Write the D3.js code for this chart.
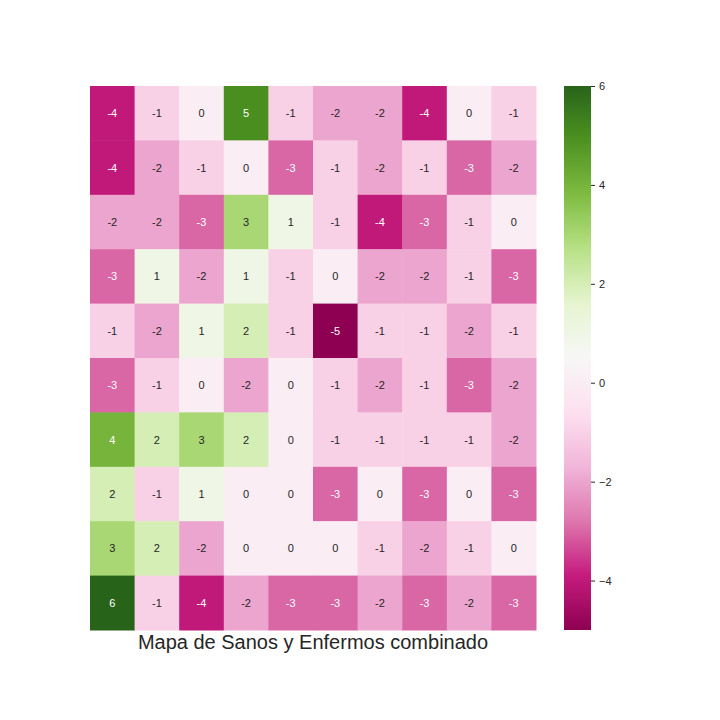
<!DOCTYPE html>
<html><head><meta charset="utf-8">
<script src="https://cdn.jsdelivr.net/npm/d3@7"></script>
<style>body{margin:0;background:#fff;}svg{display:block;}</style>
</head><body>
<svg id="chart" width="720" height="720"></svg>
<script>
const rowsIdx = [0,1,2,3,4,5,6,7,8,9];
const colsIdx = [0,1,2,3,4,5,6,7,8,9];
const matrix = [
  [-4,-1,0,5,-1,-2,-2,-4,0,-1],
  [-4,-2,-1,0,-3,-1,-2,-1,-3,-2],
  [-2,-2,-3,3,1,-1,-4,-3,-1,0],
  [-3,1,-2,1,-1,0,-2,-2,-1,-3],
  [-1,-2,1,2,-1,-5,-1,-1,-2,-1],
  [-3,-1,0,-2,0,-1,-2,-1,-3,-2],
  [4,2,3,2,0,-1,-1,-1,-1,-2],
  [2,-1,1,0,0,-3,0,-3,0,-3],
  [3,2,-2,0,0,0,-1,-2,-1,0],
  [6,-1,-4,-2,-3,-3,-2,-3,-2,-3]
];
const cbTicks = [-4,-2,0,2,4,6];
const title = "Mapa de Sanos y Enfermos combinado";
const vmin = -5, vmax = 6;
const piyg = ["#8e0152","#c51b7d","#de77ae","#f1b6da","#fde0ef","#f7f7f7","#e6f5d0","#b8e186","#7fbc41","#4d9221","#276419"];

const cmap = d3.scaleLinear().domain(d3.range(11).map(i=>i/10)).range(piyg).interpolate(d3.interpolateRgb).clamp(true);
const color = v => cmap((v - vmin)/(vmax - vmin));

const svg = d3.select("#chart");
const L=90, R=536, T=86, B=630;
const x = d3.scaleBand().domain(colsIdx).range([L,R]);
const y = d3.scaleBand().domain(rowsIdx).range([T,B]);

const cells = [];
rowsIdx.forEach(r=>colsIdx.forEach(c=>cells.push({r,c,v:matrix[r][c]})));

function lum(hex){
  const c = d3.rgb(hex);
  const f = v => { v/=255; return v<=0.03928 ? v/12.92 : Math.pow((v+0.055)/1.055,2.4); };
  return 0.2126*f(c.r)+0.7152*f(c.g)+0.0722*f(c.b);
}

svg.append("g").selectAll("rect").data(cells).join("rect")
  .attr("x",d=>x(d.c)).attr("y",d=>y(d.r))
  .attr("width",x.bandwidth()+0.5).attr("height",y.bandwidth()+0.5)
  .attr("fill",d=>color(d.v));

svg.append("g").selectAll("text").data(cells).join("text")
  .attr("x",d=>x(d.c)+x.bandwidth()/2).attr("y",d=>y(d.r)+y.bandwidth()/2)
  .attr("text-anchor","middle").attr("dominant-baseline","central")
  .attr("font-family","'Liberation Sans', Arial, sans-serif").attr("font-size",11)
  .attr("fill",d=> lum(color(d.v)) <= 0.408 ? "#ffffff" : "#262626")
  .text(d=>d.v);

// colorbar
const cbL=564, cbW=27;
const cy = d3.scaleLinear().domain([vmin,vmax]).range([B,T]);
const defs = svg.append("defs");
const grad = defs.append("linearGradient").attr("id","cbg").attr("x1",0).attr("y1",1).attr("x2",0).attr("y2",0);
d3.range(0,1.0001,0.02).forEach(t=>grad.append("stop").attr("offset",t).attr("stop-color",cmap(t)));
svg.append("rect").attr("x",cbL).attr("y",T).attr("width",cbW).attr("height",B-T).attr("fill","url(#cbg)");

const axis = d3.axisRight(cy).tickValues(cbTicks).tickSize(4).tickPadding(4)
  .tickFormat(d=> d<0 ? "\u2212"+Math.abs(d) : String(d));
const ag = svg.append("g").attr("transform",`translate(${cbL+cbW},0)`).call(axis);
ag.select(".domain").remove();
ag.selectAll("line").attr("stroke","#262626").attr("stroke-width",1);
ag.selectAll("text").attr("fill","#262626").attr("font-size",11).attr("font-family","'Liberation Sans', Arial, sans-serif");

svg.append("text").attr("x",(L+R)/2).attr("y",649).attr("text-anchor","middle")
  .attr("font-family","'Liberation Sans', Arial, sans-serif").attr("font-size",20).attr("fill","#262626")
  .text(title);
</script>
</body></html>
